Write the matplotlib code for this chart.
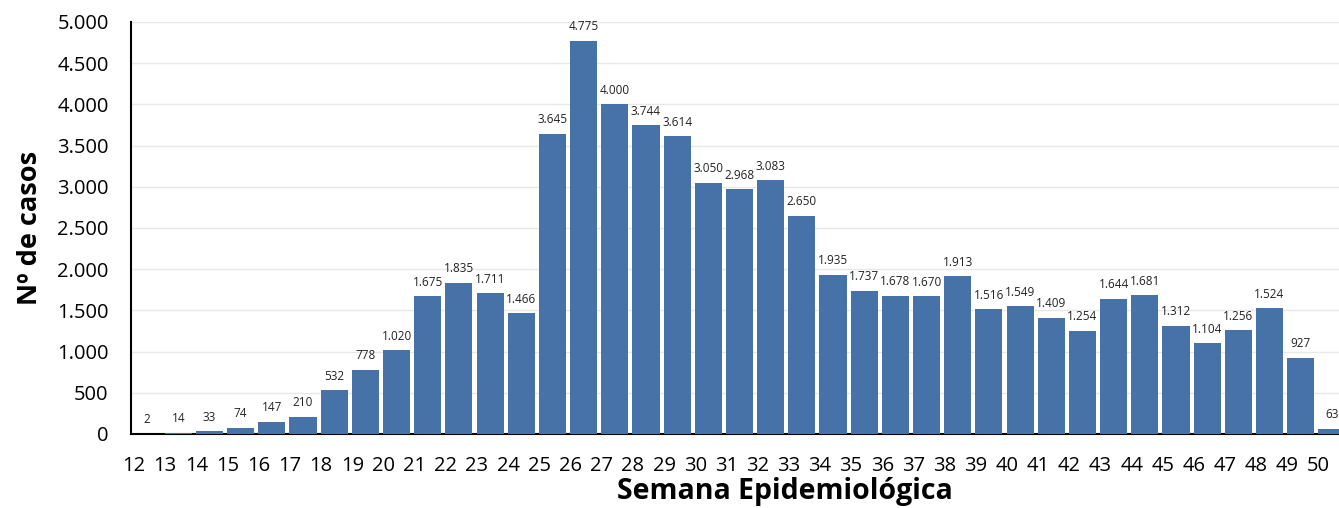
import matplotlib
matplotlib.use("Agg")
import matplotlib.pyplot as plt
from matplotlib.ticker import FuncFormatter
import numpy as np

# data
semanas = list(range(12, 51))
casos = [
    2, 14, 33, 74, 147, 210, 532, 778, 1020, 1675,
    1835, 1711, 1466, 3645, 4775, 4000, 3744, 3614, 3050, 2968,
    3083, 2650, 1935, 1737, 1678, 1670, 1913, 1516, 1549, 1409,
    1254, 1644, 1681, 1312, 1104, 1256, 1524, 927, 63,
]

bar_color = "#4672A8"
plt.rcParams["font.family"] = ["Open Sans", "DejaVu Sans"]


def miles(v, pos=None):
    return f"{int(v):,}".replace(",", ".")


fig = plt.figure(figsize=(13.39, 5.08), dpi=100)
ax = fig.add_axes([0.0978, 0.1457, 0.9022, 0.811])

x = np.arange(len(semanas))
ax.bar(x, casos, width=0.87, color=bar_color, zorder=3)

for xi, v in zip(x, casos):
    ax.text(xi, v + 90, miles(v), ha="center", va="bottom", fontsize=8.5,
            color="#222222", zorder=4)

ax.set_xlim(-0.52, 38.23)
ax.set_ylim(0, 5000)
ax.set_yticks(np.arange(0, 5001, 500))
ax.yaxis.set_major_formatter(FuncFormatter(miles))
ax.grid(axis="y", color="#e8e8e8", lw=1, zorder=0)

ax.set_xticks(x - 0.42)
ax.set_xticklabels([str(s) for s in semanas])
ax.tick_params(axis="both", length=0, labelsize=14.5)
ax.tick_params(axis="x", pad=16)
ax.tick_params(axis="y", pad=16)

for s in ["top", "right"]:
    ax.spines[s].set_visible(False)
ax.spines["left"].set_linewidth(1.5)
ax.spines["bottom"].set_linewidth(1.5)

# the original axis runs past the right edge, so the title sits right of centre
ax.set_xlabel("Semana Epidemiológica", fontsize=20.5, fontweight="bold", va="center")
ax.xaxis.set_label_coords(0.5414, -0.139)
ax.set_ylabel("Nº de casos", fontsize=19.5, fontweight="bold", labelpad=10)

fig.savefig("out.png", dpi=100)
